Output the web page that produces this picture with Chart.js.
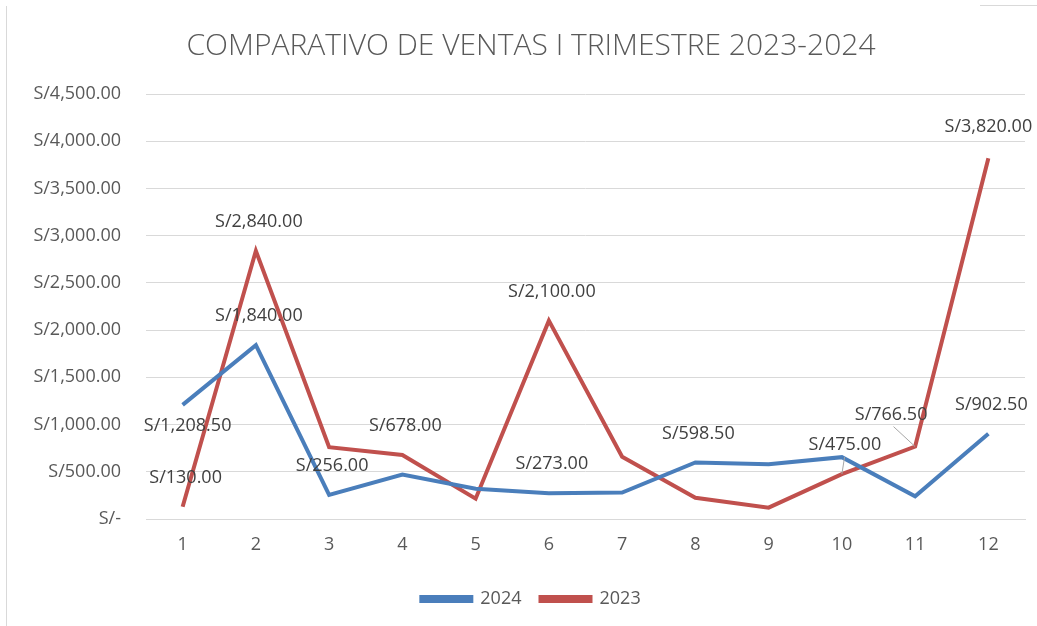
<!DOCTYPE html>
<html>
<head>
<meta charset="utf-8">
<script src="https://cdn.jsdelivr.net/npm/chart.js@4.4.0/dist/chart.umd.min.js"></script>
<style>
  html, body { margin: 0; padding: 0; background: #fff; }
  #wrap { position: relative; width: 1037px; height: 626px; }
  #frameLeft { position: absolute; left: 6px; top: 6px; width: 1px; height: 620px; background: #d9d9d9; }
  #frameTop { position: absolute; left: 980px; top: 5px; width: 57px; height: 1px; background: #d9d9d9; }
</style>
</head>
<body>
<div id="wrap">
  <canvas id="chart" width="1037" height="626"></canvas>
  <div id="frameLeft"></div>
  <div id="frameTop"></div>
</div>
<script>
// ===== data =====
const meses = ['1', '2', '3', '4', '5', '6', '7', '8', '9', '10', '11', '12'];
const ventas2024 = [1208.5, 1840, 256, 470, 320, 273, 280, 598.5, 580, 655, 240, 902.5];
const ventas2023 = [130, 2840, 760, 678, 215, 2100, 660, 225, 120, 475, 766.5, 3820];

// which points carry a value label
const etiquetas2024 = [0, 1, 2, 5, 7, 11];
const etiquetas2023 = [0, 1, 3, 5, 9, 10, 11];

const FONT = "'Open Sans', 'Noto Sans', sans-serif";
const GRAY = '#595959';

function soles(v) {
    if (v === 0) return 'S/-';
    return 'S/' + v.toLocaleString('en-US', { minimumFractionDigits: 2, maximumFractionDigits: 2 });
}

// ===== plugins =====

// value labels, placed above the point unless moved; some with leader lines
const valueLabels = {
    id: 'valueLabels',
    afterDatasetsDraw(chart, args, opts) {
        const ctx = chart.ctx;
        ctx.save();
        ctx.font = opts.font;
        ctx.fillStyle = opts.color;
        ctx.textAlign = 'center';
        ctx.textBaseline = 'middle';
        chart.data.datasets.forEach((ds, di) => {
            const meta = chart.getDatasetMeta(di);
            ds.labelIdx.forEach(i => {
                const pt = meta.data[i];
                const off = (ds.labelOffsets && ds.labelOffsets[i]) || opts.offset;
                const lx = pt.x + off[0];
                const ly = pt.y + off[1];
                if (ds.leaders && ds.leaders.includes(i)) {
                    ctx.save();
                    ctx.strokeStyle = '#a6a6a6';
                    ctx.lineWidth = 1;
                    ctx.beginPath();
                    ctx.moveTo(lx + (pt.x - lx) * 0.1, ly + 12);
                    ctx.lineTo(pt.x, pt.y);
                    ctx.stroke();
                    ctx.restore();
                }
                ctx.fillText(soles(ds.data[i]), lx, ly);
            });
        });
        ctx.restore();
    }
};

Chart.register(valueLabels);

// ===== chart =====

const chart = new Chart(document.getElementById('chart'), {
    type: 'line',
    data: {
        labels: meses,
        datasets: [
            {
                label: '2024',
                data: ventas2024,
                borderColor: '#4a7ebb',
                backgroundColor: '#4a7ebb',
                borderWidth: 4,
                pointRadius: 0,
                tension: 0,
                labelIdx: etiquetas2024,
                labelOffsets: { 0: [5, 21] }
            },
            {
                label: '2023',
                data: ventas2023,
                borderColor: '#c0504d',
                backgroundColor: '#c0504d',
                borderWidth: 4,
                pointRadius: 0,
                tension: 0,
                labelIdx: etiquetas2023,
                labelOffsets: { 10: [-24, -32], 11: [0, -31] },
                leaders: [9, 10]
            }
        ]
    },
    options: {
        responsive: false,
        animation: false,
        devicePixelRatio: 1,
        // title and legend sit a bit right of the canvas middle, so the
        // layout box runs past the right edge and an empty axis fills it
        layout: { padding: { left: 7, right: -18, top: 0, bottom: 8 } },
        plugins: {
            tooltip: { enabled: false },
            title: {
                display: true,
                text: 'COMPARATIVO DE VENTAS I TRIMESTRE 2023-2024',
                color: GRAY,
                font: { family: FONT, size: 30, weight: '300', lineHeight: 1.2 },
                padding: { top: 28, bottom: 30 }
            },
            legend: {
                position: 'bottom',
                labels: {
                    color: GRAY,
                    font: { family: FONT, size: 18 },
                    boxWidth: 50,
                    boxHeight: 4,
                    padding: 19
                }
            },
            valueLabels: {
                font: "18px " + FONT,
                color: '#404040',
                offset: [3, -29]
            }
        },
        scales: {
            x: {
                offset: true,
                grid: { display: false, drawTicks: false },
                border: { color: '#d9d9d9', width: 1 },
                ticks: { color: GRAY, font: { family: FONT, size: 18, lineHeight: 1 }, padding: 17 }
            },
            y: {
                min: 0,
                max: 4500,
                grid: { color: '#d9d9d9', drawTicks: false },
                border: { display: false },
                ticks: {
                    stepSize: 500,
                    color: GRAY,
                    font: { family: FONT, size: 18 },
                    padding: 25,
                    callback: v => soles(v)
                },
                afterFit(scale) { scale.width = 139; }
            },
            yRight: {
                position: 'right',
                min: 0,
                max: 4500,
                grid: { display: false, drawTicks: false },
                border: { display: false },
                ticks: { display: false },
                afterFit(scale) { scale.width = 30; }
            }
        }
    }
});
</script>
</body>
</html>
